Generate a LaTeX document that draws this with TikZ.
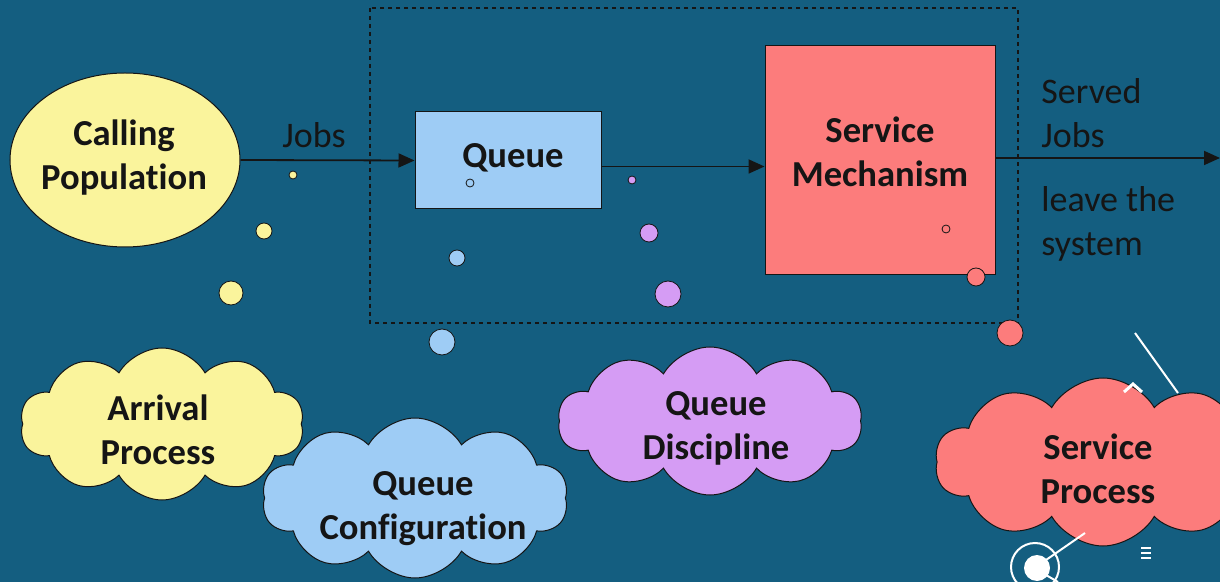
\documentclass[tikz,border=0pt]{standalone}
\usepackage{fontspec}
\setmainfont{Carlito}[Ligatures=NoCommon]
\usetikzlibrary{shapes.geometric,shapes.symbols,arrows.meta}

\definecolor{bg}{HTML}{145E80}
\definecolor{popyellow}{HTML}{FAF49C}
\definecolor{qblue}{HTML}{9ECCF5}
\definecolor{svcred}{HTML}{FC7C7C}
\definecolor{discpurple}{HTML}{D59CF4}
\definecolor{ink}{HTML}{151515}

\begin{document}
\begin{tikzpicture}[x=0.5pt,y=-0.5pt]
\tikzstyle{every node}+=[font=\fontsize{18.3}{22}\selectfont\bfseries, text=ink, align=center]
\tikzstyle{blob}=[draw=ink, line width=0.5pt]
\tikzstyle{puff}=[cloud, cloud puffs=10, cloud puff arc=120, blob, inner sep=0pt]
\tikzstyle{flow}=[draw=ink, line width=0.9pt, -{Triangle[length=8pt,width=7pt]}]
\tikzstyle{plain}=[font=\fontsize{18}{22}\selectfont, inner sep=0pt]
\tikzstyle{bubble}=[draw=ink, line width=0.4pt]

\fill[bg] (0,0) rectangle (1220,582);
\useasboundingbox (0,0) rectangle (1220,582);

% the system boundary
\draw[ink, line width=0.6pt, dash pattern=on 2pt off 2pt] (370,8) rectangle (1018,323);

% main flow
\node[ellipse, blob, fill=popyellow, minimum width=115pt, minimum height=87pt, inner sep=0pt] (pop) at (125,160) {};
\node (poptxt) at (124,158) {Calling\\Population};
\node[blob, fill=qblue, minimum width=93pt, minimum height=48.5pt] (queue) at (508,160.5) {};
\node (queuetxt) at (513,158) {Queue};
\node[blob, fill=svcred, minimum width=115pt, minimum height=114.5pt] (mech) at (880,160.5) {};
\node (mechtxt) at (880,152) {Service\\Mechanism};
\coordinate (out) at (1220,158);

\draw[flow] (pop.east) -- (queue.west);
\draw[flow] ([yshift=-3pt]queue.east) -- ([yshift=-3pt]queue.east -| mech.west);
\draw[flow] (mech.east |- out) -- (out);

\node[plain] (jobs) at (314,135) {Jobs};
\node[plain, anchor=west, align=left] (served) at (1041,113) {Served\\Jobs};
\node[plain, anchor=west, align=left] (leave) at (1041,224) {leave the\\system};

% thought bubbles
\foreach \x/\y/\r in {293/175/2pt, 264/231/4pt, 231/293/6pt}
  \fill[popyellow, bubble] (\x,\y) circle (\r);
\foreach \x/\y/\r in {470/183/2pt, 457/258/4pt, 442/342/6.5pt}
  \fill[qblue, bubble] (\x,\y) circle (\r);
\foreach \x/\y/\r in {632/180/2pt, 649/233/4.5pt, 668/294/6.5pt}
  \fill[discpurple, bubble] (\x,\y) circle (\r);
\foreach \x/\y/\r in {946/229/2pt, 976/277/4.5pt, 1010/333/6.5pt}
  \fill[svcred, bubble] (\x,\y) circle (\r);

% clouds
\node[puff, fill=popyellow, minimum width=142pt, minimum height=76pt] (arrival) at (162,424) {};
\node (arrivaltxt) at (158,430) {Arrival\\Process};
\node[puff, fill=qblue, minimum width=153pt, minimum height=80pt] (config) at (415,498) {};
\node (configtxt) at (423,509) {Queue\\Configuration};
\node[puff, fill=discpurple, minimum width=152pt, minimum height=74pt] (disc) at (710,421) {};
\node (disctxt) at (716,428) {Queue\\Discipline};
\begin{scope}
\clip (0,0) rectangle (1220,582);
\node[puff, fill=svcred, minimum width=168pt, minimum height=84pt] (sproc) at (1103,462) {};
\end{scope}
\node (sproctxt) at (1098,469) {Service\\Process};

% white marks
\draw[white, line width=1pt] (1135,333) -- (1178,393);
\draw[white, line width=1.5pt] (1124,392) -- (1133,384) -- (1142,392);
\draw[white, line width=1pt] (1035,567) circle (12pt);
\fill[white] (1037,568) circle (6.5pt);
\draw[white, line width=1pt] (1046,560) -- (1085,533);
\draw[white, line width=1pt] (1046,575) -- (1058,582);
\foreach \y in {548,553,558}
  \draw[white, line width=1pt] (1141,\y) -- (1151,\y);
\end{tikzpicture}
\end{document}
